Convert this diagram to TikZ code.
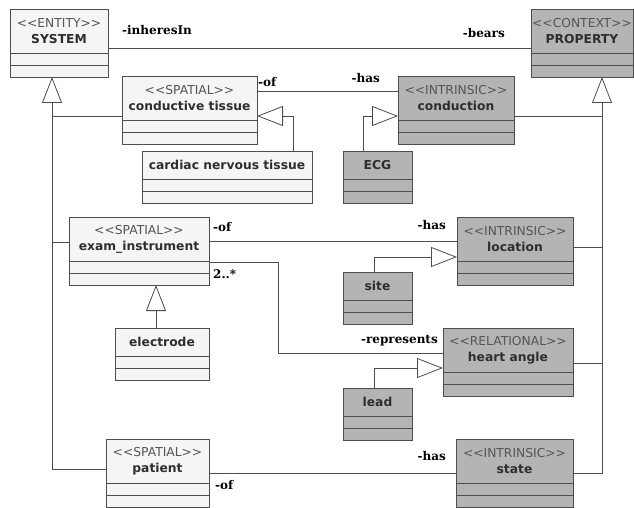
\documentclass[tikz,border=0pt]{standalone}
\usepackage{fontspec}
\setmainfont{DejaVu Sans}
\newfontfamily\rolefamily{DejaVu Serif}
\usetikzlibrary{positioning,arrows.meta}
\definecolor{linegray}{HTML}{4D4D4D}
\definecolor{lightfill}{HTML}{F5F5F5}
\definecolor{darkfill}{HTML}{B4B4B4}
\definecolor{textgray}{HTML}{2E2E2E}
\definecolor{stereogray}{HTML}{555555}
\tikzset{
  klass/.style={
    rectangle,
    draw=linegray, line width=0.8pt,
    inner sep=0pt, outer sep=0pt,
    anchor=north west,
    align=center,
    text=textgray,
    font=\fontsize{12.3}{16}\selectfont},
  entity/.style={klass, fill=lightfill},
  quality/.style={klass, fill=darkfill},
  head2/.style={minimum height=44pt},
  head1/.style={minimum height=28pt},
  comp/.style={minimum height=12pt},
  assoc/.style={draw=linegray, line width=0.8pt},
  gen/.style={assoc, -{Triangle[length=26pt, width=20pt, fill=white]}},
  role/.style={font=\rolefamily\bfseries\fontsize{12}{14}\selectfont, inner sep=0pt},
}

\begin{document}
\begin{tikzpicture}[x=1pt, y=1pt]
    \useasboundingbox (0,0) rectangle (634,-508);

    % left side: entities
    \node [entity, head2, minimum width=98pt] (sys) at (10,-9) {{\color{stereogray}<{}<ENTITY>{}>}\\\textbf{SYSTEM}};
    \node [entity, comp, minimum width=98pt, below=0pt of sys] (sys1) {};
    \node [entity, comp, minimum width=98pt, below=0pt of sys1] (sys2) {};

    \node [entity, head2, minimum width=135pt] (tis) at (122,-76) {{\color{stereogray}<{}<SPATIAL>{}>}\\\textbf{conductive tissue}};
    \node [entity, comp, minimum width=135pt, below=0pt of tis] (tis1) {};
    \node [entity, comp, minimum width=135pt, below=0pt of tis1] (tis2) {};

    \node [entity, head1, minimum width=170pt] (card) at (142,-151) {\textbf{cardiac nervous tissue}};
    \node [entity, comp, minimum width=170pt, below=0pt of card] (card1) {};
    \node [entity, comp, minimum width=170pt, below=0pt of card1] (card2) {};

    \node [entity, head2, minimum width=140pt] (exam) at (69,-217) {{\color{stereogray}<{}<SPATIAL>{}>}\\\textbf{exam\_instrument}};
    \node [entity, comp, minimum width=140pt, below=0pt of exam] (exam1) {};
    \node [entity, comp, minimum width=140pt, below=0pt of exam1] (exam2) {};

    \node [entity, head1, minimum width=94pt] (elec) at (115,-328) {\textbf{electrode}};
    \node [entity, comp, minimum width=94pt, below=0pt of elec] (elec1) {};
    \node [entity, comp, minimum width=94pt, below=0pt of elec1] (elec2) {};

    \node [entity, head2, minimum width=103pt] (pat) at (106,-439) {{\color{stereogray}<{}<SPATIAL>{}>}\\\textbf{patient}};
    \node [entity, comp, minimum width=103pt, below=0pt of pat] (pat1) {};
    \node [entity, comp, minimum width=103pt, below=0pt of pat1] (pat2) {};

    % right side: qualities
    \node [quality, head2, minimum width=102pt] (prop) at (531,-9) {{\color{stereogray}<{}<CONTEXT>{}>}\\\textbf{PROPERTY}};
    \node [quality, comp, minimum width=102pt, below=0pt of prop] (prop1) {};
    \node [quality, comp, minimum width=102pt, below=0pt of prop1] (prop2) {};

    \node [quality, head2, minimum width=116pt] (cond) at (398,-76) {{\color{stereogray}<{}<INTRINSIC>{}>}\\\textbf{conduction}};
    \node [quality, comp, minimum width=116pt, below=0pt of cond] (cond1) {};
    \node [quality, comp, minimum width=116pt, below=0pt of cond1] (cond2) {};

    \node [quality, head1, minimum width=69pt] (ecg) at (343,-151) {\textbf{ECG}};
    \node [quality, comp, minimum width=69pt, below=0pt of ecg] (ecg1) {};
    \node [quality, comp, minimum width=69pt, below=0pt of ecg1] (ecg2) {};

    \node [quality, head2, minimum width=116pt] (loc) at (457,-217) {{\color{stereogray}<{}<INTRINSIC>{}>}\\\textbf{location}};
    \node [quality, comp, minimum width=116pt, below=0pt of loc] (loc1) {};
    \node [quality, comp, minimum width=116pt, below=0pt of loc1] (loc2) {};

    \node [quality, head1, minimum width=69pt] (site) at (343,-272) {\textbf{site}};
    \node [quality, comp, minimum width=69pt, below=0pt of site] (site1) {};
    \node [quality, comp, minimum width=69pt, below=0pt of site1] (site2) {};

    \node [quality, head2, minimum width=130pt] (heart) at (443,-328) {{\color{stereogray}<{}<RELATIONAL>{}>}\\\textbf{heart angle}};
    \node [quality, comp, minimum width=130pt, below=0pt of heart] (heart1) {};
    \node [quality, comp, minimum width=130pt, below=0pt of heart1] (heart2) {};

    \node [quality, head1, minimum width=69pt] (lead) at (343,-388) {\textbf{lead}};
    \node [quality, comp, minimum width=69pt, below=0pt of lead] (lead1) {};
    \node [quality, comp, minimum width=69pt, below=0pt of lead1] (lead2) {};

    \node [quality, head2, minimum width=117pt] (state) at (456,-439) {{\color{stereogray}<{}<INTRINSIC>{}>}\\\textbf{state}};
    \node [quality, comp, minimum width=117pt, below=0pt of state] (state1) {};
    \node [quality, comp, minimum width=117pt, below=0pt of state1] (state2) {};

    % generalisation buses
    \coordinate (sysbus) at ([xshift=-7pt]sys2.south);
    \coordinate (propbus) at ([xshift=20pt]prop2.south);
    \coordinate (tisL) at ([yshift=-40pt]tis.north west);
    \coordinate (examL) at ([yshift=-25pt]exam.north west);
    \coordinate (patL) at ([yshift=-30pt]pat.north west);
    \coordinate (condR) at ([yshift=-40pt]cond.north east);
    \coordinate (locR) at ([yshift=-30pt]loc.north east);
    \coordinate (heartR) at ([yshift=-35pt]heart.north east);
    \coordinate (stateR) at ([yshift=-34pt]state.north east);

    \draw[gen] (patL) -| (sysbus);
    \draw[assoc] (tisL) -- (tisL -| sysbus);
    \draw[assoc] (examL) -- (examL -| sysbus);
    \draw[gen] (stateR) -| (propbus);
    \draw[assoc] (condR) -- (condR -| propbus);
    \draw[assoc] (locR) -- (locR -| propbus);
    \draw[assoc] (heartR) -- (heartR -| propbus);

    \draw[gen] ([xshift=-19pt]card.north east) |- ([yshift=-40pt]tis.north east);
    \draw[gen] ([xshift=20pt]ecg.north west) |- ([yshift=-40pt]cond.north west);
    \draw[gen] ([xshift=31pt]site.north west) |- ([yshift=-40pt]loc.north west);
    \draw[gen] ([xshift=31pt]lead.north west) |- ([yshift=-40pt]heart.north west);
    \draw[gen] ([xshift=-6pt]elec.north) -- ([xshift=-6pt]elec.north |- exam2.south);

    % associations
    \draw[assoc] ([yshift=-39pt]sys.north east) -- ([yshift=-39pt]prop.north west);
    \draw[assoc] ([yshift=-15pt]tis.north east) -- ([yshift=-15pt]cond.north west);
    \draw[assoc] ([yshift=-24pt]exam.north east) -- ([yshift=-24pt]loc.north west);
    \draw[assoc] ([yshift=-45pt]exam.north east) -- ++(69pt,0) |- ([yshift=-25pt]heart.north west);
    \draw[assoc] ([yshift=-34pt]pat.north east) -- ([yshift=-34pt]state.north west);

    % role names
    \node[role, anchor=west] (rInheres) at (122,-30) {-inheresIn};
    \node[role, anchor=east] (rBears) at (505,-33) {-bears};
    \node[role, anchor=west] (rOfTis) at (258,-82) {-of};
    \node[role, anchor=east] (rHasCond) at (380,-78) {-has};
    \node[role, anchor=west] (rOfExam) at (213,-227) {-of};
    \node[role, anchor=west] (rMult) at (213,-274) {2..*};
    \node[role, anchor=east] (rHasLoc) at (446,-225) {-has};
    \node[role, anchor=east] (rRepr) at (438,-341) {-represents};
    \node[role, anchor=east] (rHasState) at (446,-456) {-has};
    \node[role, anchor=west] (rOfPat) at (215,-485) {-of};

\end{tikzpicture}
\end{document}
